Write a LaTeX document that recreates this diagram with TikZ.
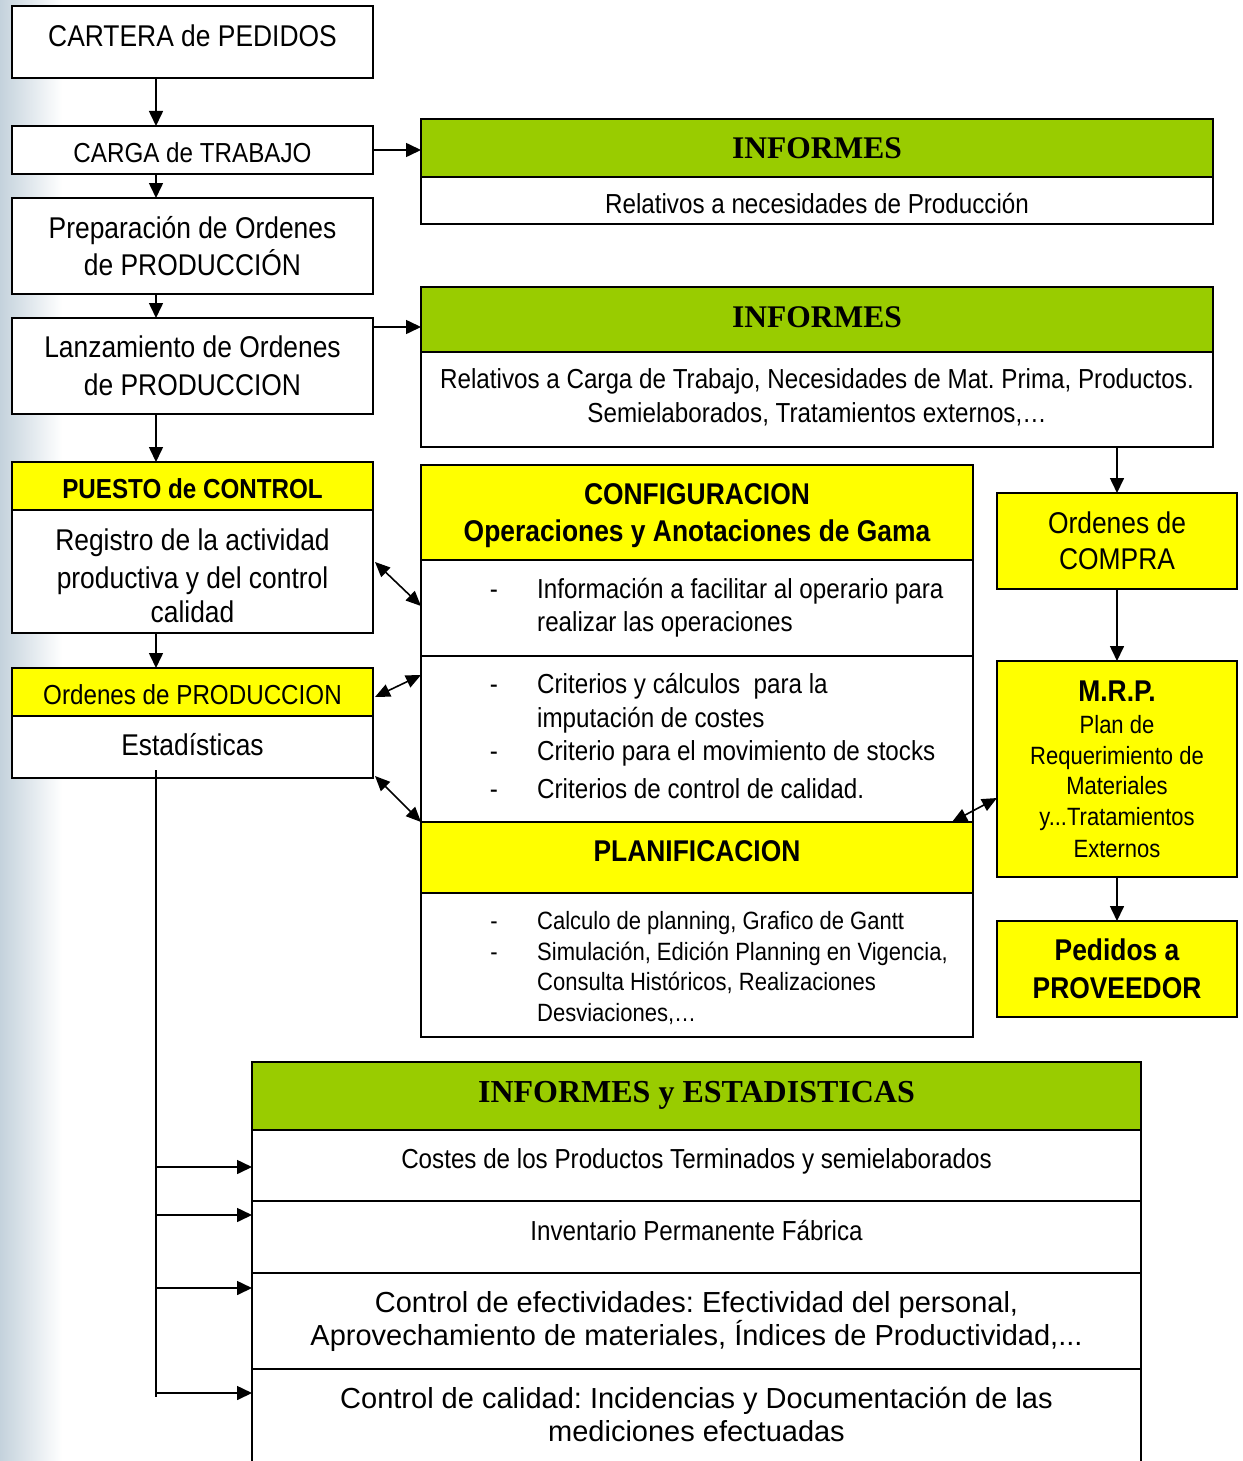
\documentclass[tikz,border=0pt]{standalone}
\usepackage{fontspec}
\setmainfont{Liberation Sans}
\newfontfamily\nar[FakeStretch=0.88]{Liberation Sans}
\newfontfamily\ser{Liberation Serif}
\usetikzlibrary{arrows.meta}
\definecolor{grn}{HTML}{99CC00}
\definecolor{yel}{HTML}{FFFF00}
\definecolor{bgb}{RGB}{196,210,220}
\frenchspacing
\begin{document}
\begin{tikzpicture}[x=1pt,y=-1pt,
 bx/.style={draw=black,line width=1.6pt,inner sep=0pt,outer sep=0pt,anchor=north west},
 wb/.style={bx,fill=white},
 yb/.style={bx,fill=yel},
 gb/.style={bx,fill=grn},
 arr/.style={line width=1.6pt,-{Triangle[length=15pt,width=14pt]}},
 darr/.style={line width=1.6pt,{Triangle[length=15pt,width=13pt]}-{Triangle[length=15pt,width=13pt]}},
 tx/.style={inner sep=0pt,anchor=base},
 tl/.style={inner sep=0pt,anchor=base west},
 fa/.style={font=\nar\fontsize{30}{36}\selectfont},
 fb/.style={font=\nar\fontsize{27.5}{33}\selectfont},
 fc/.style={font=\nar\fontsize{25}{30}\selectfont},
 fab/.style={font=\nar\bfseries\fontsize{30}{36}\selectfont},
 fbb/.style={font=\nar\bfseries\fontsize{27.5}{33}\selectfont},
 fs/.style={font=\ser\bfseries\fontsize{31.5}{36}\selectfont},
 fn/.style={font=\fontsize{29}{34}\selectfont}
]
\useasboundingbox (0,0) rectangle (1242,1461);
\clip (0,0) rectangle (1242,1461);
\fill[white] (0,0) rectangle (1242,1461);
\shade[left color=bgb,right color=white] (0,0) rectangle (62,1461);

% ---------- left column boxes
\node[wb,minimum width=361pt,minimum height=72pt] (cartera) at (12,6) {};
\node[wb,minimum width=361pt,minimum height=48pt] (carga) at (12,126) {};
\node[wb,minimum width=361pt,minimum height=96pt] (prep) at (12,198) {};
\node[wb,minimum width=361pt,minimum height=96pt] (lanz) at (12,318) {};
\node[yb,minimum width=361pt,minimum height=48pt] (puestoH) at (12,462) {};
\node[wb,minimum width=361pt,minimum height=123pt] (puestoB) at (12,510) {};
\node[wb,minimum width=361pt,minimum height=110pt] (ordB) at (12,668) {};
\node[yb,minimum width=361pt,minimum height=48pt] (ordH) at (12,668) {};

% ---------- informes boxes
\node[gb,minimum width=792pt,minimum height=58pt] (inf1H) at (421,119) {};
\node[wb,minimum width=792pt,minimum height=47pt] (inf1B) at (421,177) {};
\node[gb,minimum width=792pt,minimum height=65pt] (inf2H) at (421,287) {};
\node[wb,minimum width=792pt,minimum height=95pt] (inf2B) at (421,352) {};

% ---------- configuracion / planificacion
\node[yb,minimum width=552pt,minimum height=95pt] (cfgH) at (421,465) {};
\node[wb,minimum width=552pt,minimum height=96pt] (cfgB1) at (421,560) {};
\node[wb,minimum width=552pt,minimum height=166pt] (cfgB2) at (421,656) {};
\node[yb,minimum width=552pt,minimum height=71pt] (planH) at (421,822) {};
\node[wb,minimum width=552pt,minimum height=144pt] (planB) at (421,893) {};

% ---------- right column
\node[yb,minimum width=240pt,minimum height=96pt] (compra) at (997,493) {};
\node[yb,minimum width=240pt,minimum height=216pt] (mrp) at (997,661) {};
\node[yb,minimum width=240pt,minimum height=96pt] (ped) at (997,921) {};

% ---------- informes y estadisticas
\node[gb,minimum width=889pt,minimum height=68pt] (ieH) at (252,1062) {};
\node[wb,minimum width=889pt,minimum height=71pt] (ie1) at (252,1130) {};
\node[wb,minimum width=889pt,minimum height=72pt] (ie2) at (252,1201) {};
\node[wb,minimum width=889pt,minimum height=96pt] (ie3) at (252,1273) {};
\node[wb,minimum width=889pt,minimum height=110pt] (ie4) at (252,1369) {};

% ---------- texts left
\node[tx,fa] (t1) at (192.5,46.8) {CARTERA de PEDIDOS};
\node[tx,fb] (t2) at (192.5,162.9) {CARGA de TRABAJO};
\node[tx,fa] (t3a) at (192.5,238.8) {Preparación de Ordenes};
\node[tx,fa] (t3b) at (192.5,275.8) {de PRODUCCIÓN};
\node[tx,fa] (t4a) at (192.5,357.8) {Lanzamiento de Ordenes};
\node[tx,fa] (t4b) at (192.5,395.8) {de PRODUCCION};
\node[tx,fbb] (t5) at (192.5,498.9) {PUESTO de CONTROL};
\node[tx,fa] (t6a) at (192.5,550.3) {Registro de la actividad};
\node[tx,fa] (t6b) at (192.5,588.3) {productiva y del control};
\node[tx,fa] (t6c) at (192.5,622.5) {calidad};
\node[tx,fb] (t7) at (192.5,704) {Ordenes de PRODUCCION};
\node[tx,fa] (t8) at (192.5,755.5) {Estadísticas};

% ---------- texts informes
\node[tx,fs] (i1) at (817,158.4) {INFORMES};
\node[tx,fb] (i1a) at (817,213.9) {Relativos a necesidades de Producción};
\node[tx,fs] (i2) at (817,327.4) {INFORMES};
\node[tx,fb] (i2a) at (817,388.9) {Relativos a Carga de Trabajo, Necesidades de Mat. Prima, Productos.};
\node[tx,fb] (i2b) at (817,422.9) {Semielaborados, Tratamientos externos,…};

% ---------- texts configuracion
\node[tx,fab] (c1) at (697,504.8) {CONFIGURACION};
\node[tx,fab] (c2) at (697,541.8) {Operaciones y Anotaciones de Gama};
\node[tx,fb] (c3d) at (494,598.9) {-};
\node[tl,fb] (c3) at (537,598.9) {Información a facilitar al operario para};
\node[tl,fb] (c4) at (537,631.9) {realizar las operaciones};
\node[tx,fb] (c5d) at (494,693.9) {-};
\node[tl,fb] (c5) at (537,693.9) {Criterios y cálculos\ \ para la};
\node[tl,fb] (c6) at (537,727.9) {imputación de costes};
\node[tx,fb] (c7d) at (494,760.9) {-};
\node[tl,fb] (c7) at (537,760.9) {Criterio para el movimiento de stocks};
\node[tx,fb] (c8d) at (494,798.9) {-};
\node[tl,fb] (c8) at (537,798.9) {Criterios de control de calidad.};

\node[tx,fab] (p1) at (697,861.8) {PLANIFICACION};
\node[tx,fc] (p2d) at (494,929) {-};
\node[tl,fc] (p2) at (537,929) {Calculo de planning, Grafico de Gantt};
\node[tx,fc] (p3d) at (494,960) {-};
\node[tl,fc] (p3) at (537,960) {Simulación, Edición Planning en Vigencia,};
\node[tl,fc] (p4) at (537,990) {Consulta Históricos, Realizaciones};
\node[tl,fc] (p5) at (537,1021) {Desviaciones,…};

% ---------- texts right column
\node[tx,fa] (o1) at (1117,533.8) {Ordenes de};
\node[tx,fa] (o2) at (1117,569.8) {COMPRA};
\node[tx,fab] (m1) at (1117,701.8) {M.R.P.};
\node[tx,fc] (m2) at (1117,733) {Plan de};
\node[tx,fc] (m3) at (1117,764) {Requerimiento de};
\node[tx,fc] (m4) at (1117,794) {Materiales};
\node[tx,fc] (m5) at (1117,825) {y...Tratamientos};
\node[tx,fc] (m6) at (1117,857) {Externos};
\node[tx,fab] (q1) at (1117,960.8) {Pedidos a};
\node[tx,fab] (q2) at (1117,998.8) {PROVEEDOR};

% ---------- texts informes y estadisticas
\node[tx,font=\ser\bfseries\fontsize{32}{36}\selectfont] (e0) at (696.5,1102.6) {INFORMES y ESTADISTICAS};
\node[tx,fb] (e1) at (696.5,1168.9) {Costes de los Productos Terminados y semielaborados};
\node[tx,fb] (e2) at (696.5,1240.9) {Inventario Permanente Fábrica};
\node[tx,fn] (e3a) at (696.5,1312.4) {Control de efectividades: Efectividad del personal,};
\node[tx,fn] (e3b) at (696.5,1345.4) {Aprovechamiento de materiales, Índices de Productividad,...};
\node[tx,fn] (e4a) at (696.5,1408.4) {Control de calidad: Incidencias y Documentación de las};
\node[tx,fn] (e4b) at (696.5,1441.4) {mediciones efectuadas};

% ---------- connectors
\coordinate (xa) at (156,0);
\draw[arr] (cartera.south -| xa) -- (carga.north -| xa);
\draw[arr] (carga.south -| xa) -- (prep.north -| xa);
\draw[arr] (prep.south -| xa) -- (lanz.north -| xa);
\draw[arr] (lanz.south -| xa) -- (puestoH.north -| xa);
\draw[arr] (puestoB.south -| xa) -- (ordH.north -| xa);

\draw[arr] (carga.east) -- (carga.east -| inf1H.west);
\coordinate (ly) at (0,327);
\draw[arr] (lanz.east |- ly) -- (inf2H.west |- ly);
\draw[arr] (compra.north |- inf2B.south) -- (compra.north);
\draw[arr] (compra.south) -- (mrp.north);
\draw[arr] (mrp.south) -- (ped.north);

\coordinate (d1a) at (375,562);
\coordinate (d1b) at (421,606);
\coordinate (d2a) at (375,697);
\coordinate (d2b) at (421,675);
\coordinate (d3a) at (375,776);
\coordinate (d3b) at (421,822);
\coordinate (d4a) at (952,822);
\coordinate (d4b) at (997,798);
\draw[darr] (d1a) -- (d1b);
\draw[darr] (d2a) -- (d2b);
\draw[darr] (d3a) -- (d3b);
\draw[darr] (d4a) -- (d4b);

\coordinate (vs) at (156,770);
\coordinate (ve) at (156,1397);
\draw[line width=1.6pt] (vs) -- (ve);
\coordinate (b1) at (156,1167);
\coordinate (b2) at (156,1215);
\coordinate (b3) at (156,1288);
\coordinate (b4) at (156,1393);
\draw[arr] (b1) -- (b1 -| ie1.west);
\draw[arr] (b2) -- (b2 -| ie2.west);
\draw[arr] (b3) -- (b3 -| ie3.west);
\draw[arr] (b4) -- (b4 -| ie4.west);
\end{tikzpicture}
\end{document}
